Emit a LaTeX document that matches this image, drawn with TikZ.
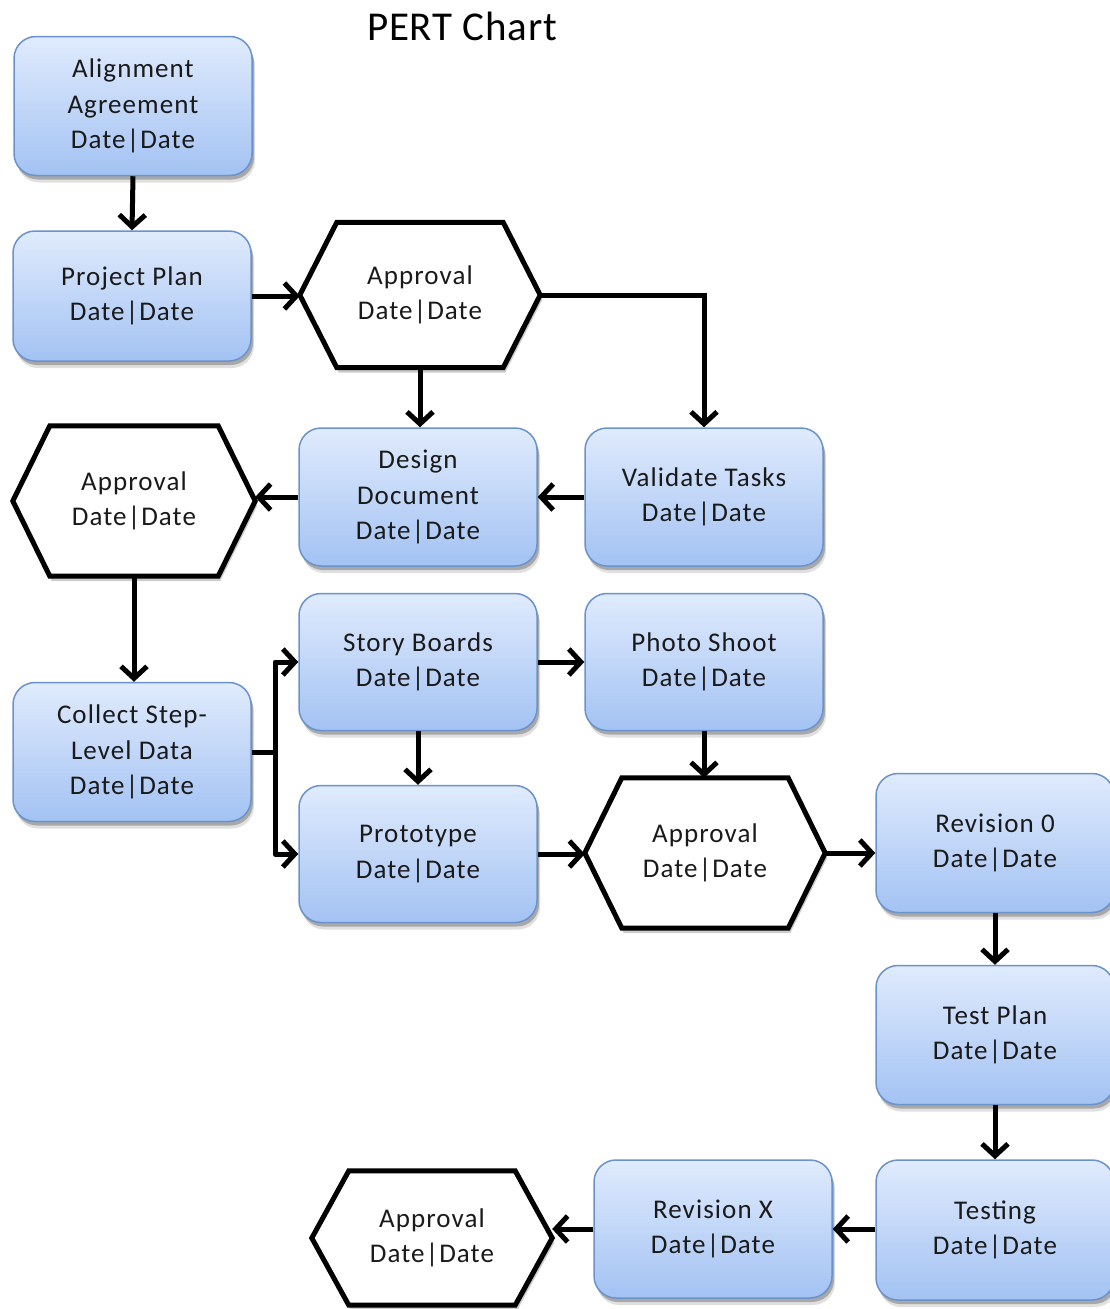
\documentclass[tikz,border=0pt]{standalone}
\usepackage{fontspec}
\setmainfont{Carlito}[LetterSpace=4]
\newfontfamily\titlefont{Carlito}[LetterSpace=2]
\usetikzlibrary{arrows.meta,shadows,backgrounds,calc}

\definecolor{boxtop}{HTML}{E0EBFD}
\definecolor{boxbot}{HTML}{A3C2F3}
\definecolor{boxedge}{HTML}{6A93CB}
\definecolor{ink}{HTML}{1A1A1A}

\tikzset{
  task/.style={rectangle, rounded corners=22pt, draw=boxedge, line width=1.5pt,
    top color=boxtop, bottom color=boxbot, text=ink, align=center,
    minimum width=238pt, minimum height=138pt, inner sep=0pt,
    font=\fontsize{27}{35.5}\selectfont,
    general shadow={shadow xshift=3pt, shadow yshift=-7pt, opacity=.12, fill=black},
    general shadow={shadow xshift=2pt, shadow yshift=-4pt, opacity=.25, fill=black}},
  gate/.style={rectangle, minimum width=240pt, minimum height=145pt, inner sep=0pt,
    text=ink, align=center, font=\fontsize{27}{35.5}\selectfont},
  hexpath/.style={insert path={(#1.west) -- ([xshift=37pt]#1.north west)
    -- ([xshift=-37pt]#1.north east) -- (#1.east)
    -- ([xshift=-37pt]#1.south east) -- ([xshift=37pt]#1.south west) -- cycle}},
  hexline/.style={draw=black, line width=5pt, line join=miter, fill=white},
  hexshade/.style={fill=black, opacity=.2, transform canvas={shift={(2pt,-5pt)}}},
  link/.style={draw=black, line width=5pt},
  arr/.style={link, -{Straight Barb[length=12pt, width=26pt]}},
}

\begin{document}
\begin{tikzpicture}[x=1pt, y=-1pt]
\useasboundingbox (0,0) rectangle (1110,1309);

\node[font=\titlefont\fontsize{41}{48}\selectfont, text=black] (title) at (462,26) {PERT Chart};

% task boxes
\node[task, minimum height=139pt] (aa) at (133,106) {Alignment\\Agreement\\Date|Date};
\node[task, minimum height=130pt] (pp) at (132,296) {Project Plan\\Date|Date};
\node[task] (dd) at (418,497) {Design\\Document\\Date|Date};
\node[task] (vt) at (704,497) {Validate Tasks\\Date|Date};
\node[task, minimum height=139pt] (cs) at (132,752) {Collect Step-\\Level Data\\Date|Date};
\node[task, minimum height=137pt] (sb) at (418,662) {Story Boards\\Date|Date};
\node[task, minimum height=137pt] (ps) at (704,662) {Photo Shoot\\Date|Date};
\node[task, minimum height=137pt] (pr) at (418,854) {Prototype\\Date|Date};
\node[task, minimum height=139pt] (r0) at (995,843) {Revision 0\\Date|Date};
\node[task, minimum height=139pt] (tp) at (995,1035) {Test Plan\\Date|Date};
\node[task, minimum height=140pt] (te) at (995,1230) {Testing\\Date|Date};
\node[task] (rx) at (713,1229) {Revision X\\Date|Date};

% approval gates
\node[gate] (h1) at (420,295) {Approval\\Date|Date};
\node[gate, minimum width=242pt, minimum height=150pt] (h2) at (134,501) {Approval\\Date|Date};
\node[gate, minimum height=150pt] (h3) at (705,853) {Approval\\Date|Date};
\node[gate, minimum height=134pt] (h4) at (432,1238) {Approval\\Date|Date};

\begin{scope}[on background layer]
  \foreach \g in {h1,h2,h3,h4} {
    \path[hexshade, hexpath=\g];
    \path[hexline, hexpath=\g];
  }
\end{scope}

% connectors
\coordinate (jn) at (275,752);
\draw[arr] (aa.south) -- (pp.north);
\draw[arr] (pp.east) -- (pp.east -| h1.west);
\draw[arr] (h1.east) -| (vt.north);
\draw[arr] (h1.south) -- (dd.north -| h1.south);
\draw[arr] (vt.west) -- (dd.east);
\draw[arr] (dd.west) -- (dd.west -| h2.east);
\draw[arr] (h2.south) -- (cs.north -| h2.south);
\draw[link] (cs.east) -- (jn);
\draw[arr, line join=round] (jn) |- (sb.west);
\draw[arr, line join=round] (jn) |- (pr.west);
\draw[arr] (sb.east) -- (ps.west);
\draw[arr] (sb.south) -- (pr.north);
\draw[arr] (ps.south) -- (h3.north -| ps.south);
\draw[arr] (pr.east) -- (pr.east -| h3.west);
\draw[arr] (h3.east) -- (h3.east -| r0.west);
\draw[arr] (r0.south) -- (tp.north);
\draw[arr] (tp.south) -- (te.north);
\draw[arr] (te.west |- rx.east) -- (rx.east);
\draw[arr] (rx.west) -- (rx.west -| h4.east);
\end{tikzpicture}
\end{document}
